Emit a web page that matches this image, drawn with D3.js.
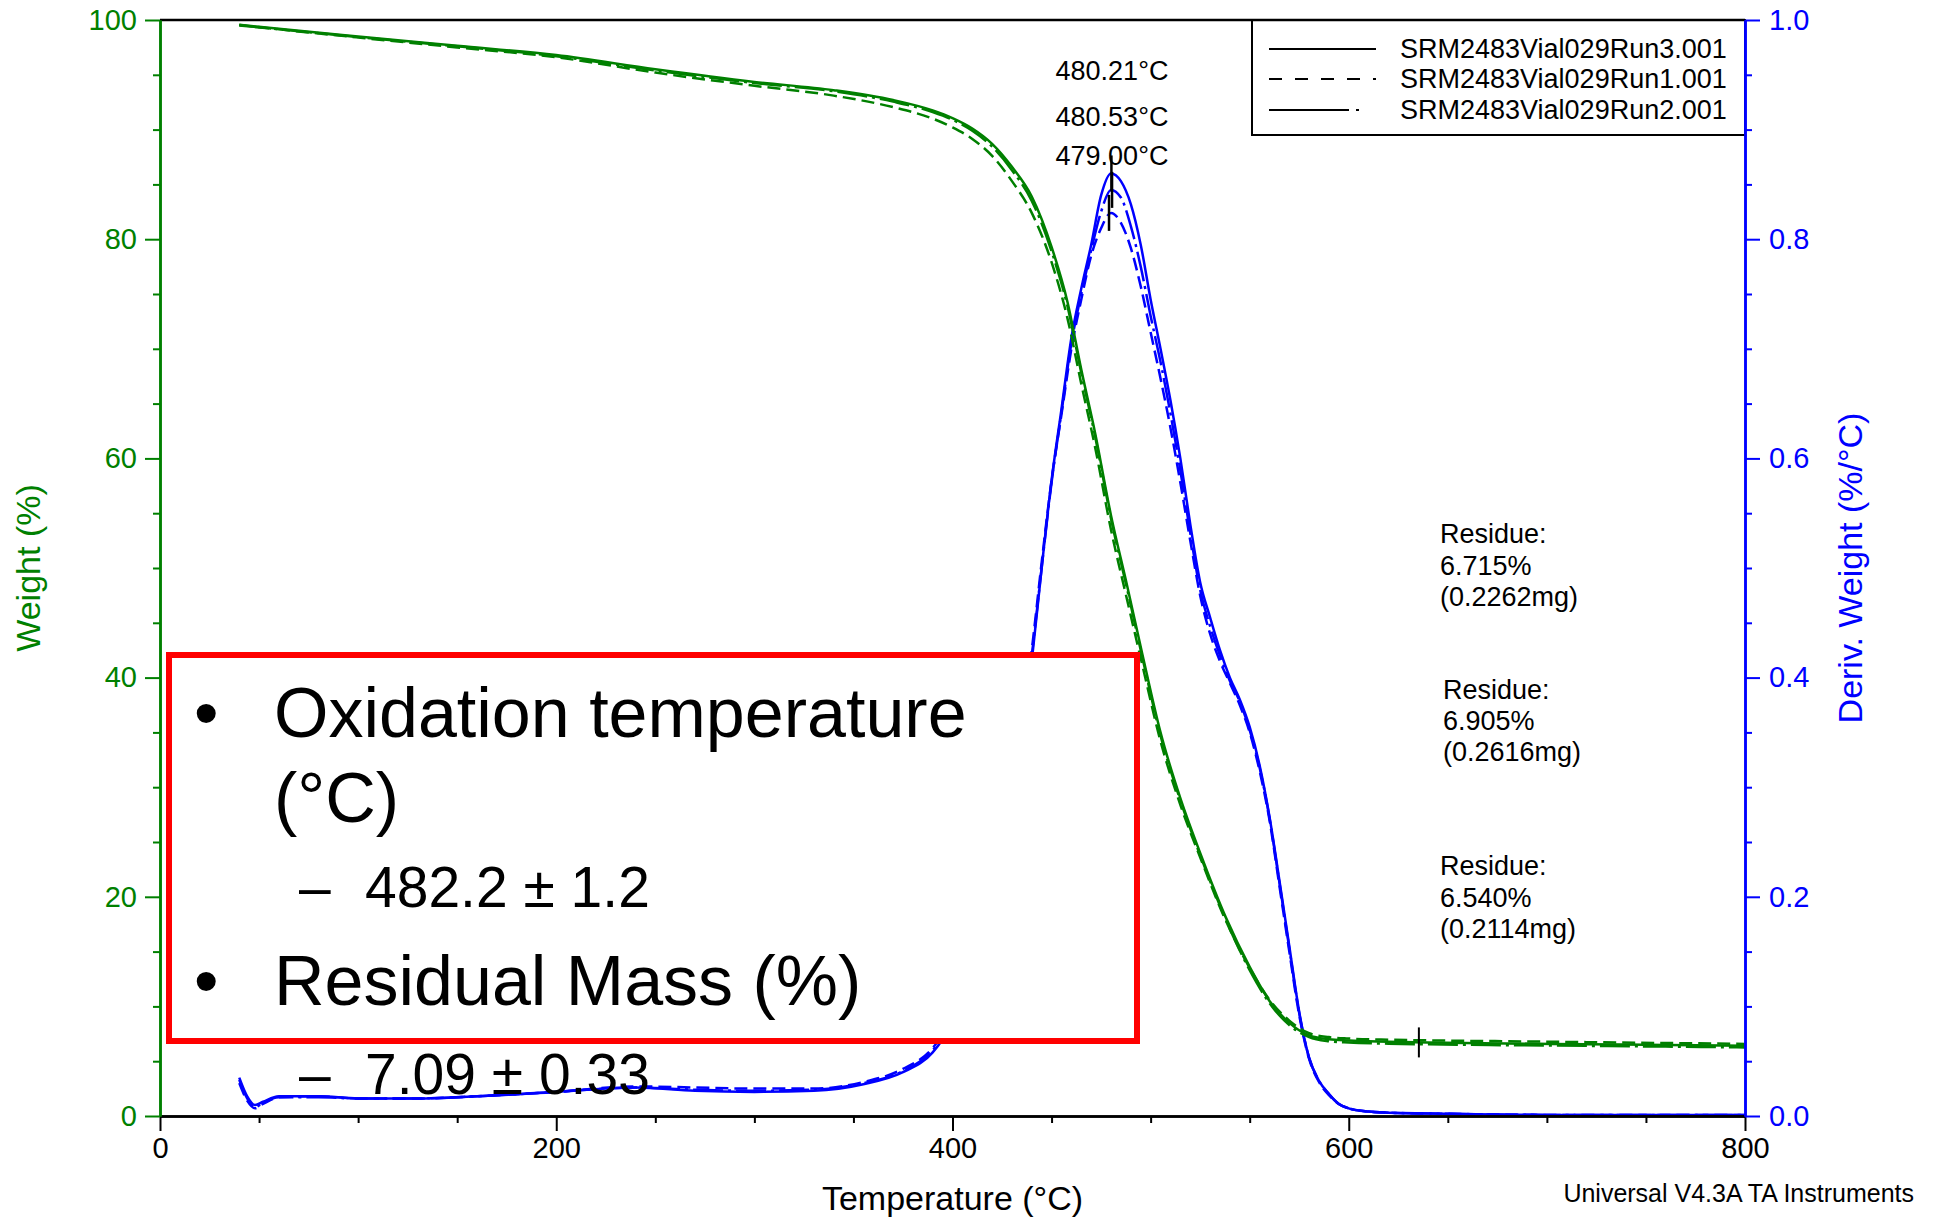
<!DOCTYPE html>
<html><head><meta charset="utf-8">
<script src="https://cdn.jsdelivr.net/npm/d3@7"></script>
<style>
html,body{margin:0;padding:0;background:#fff;}
svg{display:block;font-family:"Liberation Sans",Arial,sans-serif;}
</style></head>
<body>
<svg id="chart" width="1936" height="1218"></svg>
<script>
// ---------------- DATA ----------------
const runNames = ["SRM2483Vial029Run3.001","SRM2483Vial029Run1.001","SRM2483Vial029Run2.001"];
const xTicksMajor = [0,200,400,600,800];
const yWeightTicks = [0,20,40,60,80,100];
const yDerivTicks = [0.0,0.2,0.4,0.6,0.8,1.0];

const weightTemps = [40,60,100,150,200,250,300,340,370,390,400,410,420,430,440,450,458,465,472,480,488,496,505,515,525,538,550,560,570,580,590,600,620,640,680,720,760,800];
const weightRun3 = [99.57,99.2,98.5,97.65,96.8,95.5,94.35,93.6,92.7,91.75,91.05,90.1,88.7,86.6,83.9,79.3,74.3,68.1,62.3,54.8,48.5,42.0,35.0,29.0,24.0,18.1,13.6,10.5,8.5,7.35,7.0,6.88,6.78,6.71,6.62,6.55,6.48,6.40];
const weightRun1 = [99.55,99.15,98.4,97.5,96.6,95.2,94.0,93.1,92.05,91.0,90.2,89.15,87.6,85.3,82.4,77.9,72.8,66.8,61.0,53.5,47.2,41.0,34.2,28.4,23.6,17.8,13.5,10.6,8.7,7.55,7.2,7.07,6.96,6.90,6.82,6.74,6.66,6.58];
const weightRun2 = [99.5,99.15,98.45,97.6,96.7,95.4,94.25,93.5,92.55,91.6,90.9,89.9,88.45,86.3,83.5,78.9,73.9,67.8,62.0,54.5,48.2,41.7,34.7,28.8,23.8,17.9,13.3,10.3,8.3,7.2,6.82,6.70,6.60,6.54,6.46,6.40,6.33,6.26];

const derivTemps = [40,44,48,52,60,80,100,130,160,200,240,270,300,330,355,375,390,400,410,420,430,440,445,450,455,460,465,470,475,480,485,490,495,500,505,510,515,520,525,530,535,540,545,550,555,560,565,570,575,580,585,590,595,600,610,620,650,700,750,800];
const derivRun3 = [0.035,0.018,0.010,0.013,0.018,0.018,0.016,0.016,0.018,0.022,0.026,0.023,0.022,0.023,0.029,0.040,0.058,0.085,0.125,0.19,0.29,0.415,0.50,0.58,0.645,0.71,0.755,0.795,0.84,0.86,0.853,0.832,0.795,0.745,0.70,0.653,0.60,0.54,0.487,0.455,0.425,0.40,0.38,0.355,0.32,0.273,0.215,0.155,0.095,0.053,0.032,0.02,0.011,0.007,0.004,0.003,0.002,0.001,0.001,0.001];
const derivRun1 = [0.030,0.014,0.007,0.011,0.017,0.018,0.016,0.016,0.018,0.022,0.027,0.026,0.025,0.025,0.031,0.043,0.062,0.09,0.13,0.20,0.30,0.425,0.505,0.58,0.64,0.70,0.745,0.785,0.81,0.824,0.815,0.792,0.757,0.715,0.673,0.628,0.578,0.525,0.475,0.44,0.415,0.395,0.375,0.35,0.315,0.27,0.21,0.15,0.092,0.052,0.031,0.019,0.011,0.007,0.004,0.003,0.002,0.001,0.001,0.001];
const derivRun2 = [0.033,0.016,0.008,0.012,0.017,0.017,0.016,0.016,0.018,0.022,0.026,0.024,0.023,0.024,0.030,0.041,0.060,0.087,0.127,0.195,0.295,0.42,0.50,0.578,0.642,0.705,0.75,0.79,0.825,0.845,0.838,0.812,0.775,0.73,0.688,0.641,0.589,0.532,0.48,0.447,0.42,0.397,0.378,0.352,0.318,0.272,0.213,0.153,0.094,0.053,0.032,0.02,0.011,0.007,0.004,0.003,0.002,0.001,0.001,0.001];

const peakTemps = [480.21,480.53,479.00];
const peakVals = [0.860,0.845,0.824];
const peakLabels = ["480.21°C","480.53°C","479.00°C"];

const residueTemp = 635.4;
const residueWeight = 6.715;
const residueLines = [
  ["Residue:","6.715%","(0.2262mg)"],
  ["Residue:","6.905%","(0.2616mg)"],
  ["Residue:","6.540%","(0.2114mg)"]
];

const boxLines = ["Oxidation temperature","(°C)","482.2 ± 1.2","Residual Mass (%)","7.09 ± 0.33"];

// ---------------- LAYOUT ----------------
const svg = d3.select("#chart");
const L=160,R=1745,T=20,B=1116;
const GREEN="#008000", BLUE="#0000ff";
const x = d3.scaleLinear().domain([0,800]).range([L,R]);
const yW = d3.scaleLinear().domain([0,100]).range([B,T]);
const yD = d3.scaleLinear().domain([0,1.0]).range([B,T]);

const dashes = [null,"13,6","30,5,3,5"];

// curves
const wRuns=[weightRun3,weightRun1,weightRun2];
const dRuns=[derivRun3,derivRun1,derivRun2];
const lineW = d3.line().x(d=>x(d[0])).y(d=>yW(d[1])).curve(d3.curveMonotoneX);
const lineD = d3.line().x(d=>x(d[0])).y(d=>yD(d[1])).curve(d3.curveMonotoneX);
const gCurves = svg.append("g");
dRuns.forEach((vals,i)=>{
  gCurves.append("path").attr("d",lineD(derivTemps.map((t,j)=>[t,vals[j]])))
    .attr("fill","none").attr("stroke",BLUE).attr("stroke-width",2.5)
    .attr("stroke-dasharray",dashes[i]);
});
wRuns.forEach((vals,i)=>{
  gCurves.append("path").attr("d",lineW(weightTemps.map((t,j)=>[t,vals[j]])))
    .attr("fill","none").attr("stroke",GREEN).attr("stroke-width",2.5)
    .attr("stroke-dasharray",dashes[i]);
});

// peak markers & labels
peakTemps.forEach((t,i)=>{
  svg.append("line").attr("x1",x(t)).attr("x2",x(t))
    .attr("y1",yD(peakVals[i])-18).attr("y2",yD(peakVals[i])+18)
    .attr("stroke","#000").attr("stroke-width",2.5);
});
const peakBase=[80,126,165];
peakLabels.forEach((s,i)=>{
  svg.append("text").attr("x",x(480)+1).attr("y",peakBase[i]).attr("text-anchor","middle")
    .attr("font-size",27).attr("fill","#000").text(s);
});

// residue marker & text
svg.append("line").attr("x1",x(residueTemp)).attr("x2",x(residueTemp))
  .attr("y1",yW(residueWeight)-15).attr("y2",yW(residueWeight)+15)
  .attr("stroke","#000").attr("stroke-width",2);
const resBase=[[543,575,606],[699,730,761],[875,907,938]];
const resX=[1440,1443,1440];
residueLines.forEach((grp,i)=>{
  grp.forEach((s,j)=>{
    svg.append("text").attr("x",resX[i]).attr("y",resBase[i][j]).attr("font-size",27)
      .attr("fill","#000").text(s);
  });
});

// legend
const lg = svg.append("g");
lg.append("rect").attr("x",1252).attr("y",T).attr("width",R-1252).attr("height",115)
  .attr("fill","#fff").attr("stroke","#000").attr("stroke-width",2);
const legY=[49,79,110];
const legDash=[null,"13,13","80,7,3,40"];
runNames.forEach((n,i)=>{
  lg.append("line").attr("x1",1269).attr("x2",1376).attr("y1",legY[i]).attr("y2",legY[i])
    .attr("stroke","#000").attr("stroke-width",2).attr("stroke-dasharray",legDash[i]);
  lg.append("text").attr("x",1400).attr("y",legY[i]+9).attr("font-size",27).attr("fill","#000").text(n);
});

// top border
svg.append("line").attr("x1",L).attr("x2",R).attr("y1",T).attr("y2",T).attr("stroke","#000").attr("stroke-width",2.5);

// axes
function styleAxis(g,color){
  g.selectAll("path.domain").attr("stroke",color).attr("stroke-width",2.5);
  g.selectAll(".tick line").attr("stroke",color).attr("stroke-width",2);
  g.selectAll(".tick text").attr("fill",color).attr("font-size",29).attr("font-family","Liberation Sans, Arial, sans-serif");
}
const xMinor = d3.range(0,801,50).filter(v=>v%200!==0);
styleAxis(svg.append("g").attr("transform",`translate(0,${B})`)
  .call(d3.axisBottom(x).tickValues(xMinor).tickSize(7).tickFormat("").tickSizeOuter(0)),"#000");
styleAxis(svg.append("g").attr("transform",`translate(0,${B})`)
  .call(d3.axisBottom(x).tickValues(xTicksMajor).tickSize(15).tickPadding(6).tickSizeOuter(0)),"#000");

const wMinor = d3.range(0,101,5).filter(v=>v%20!==0);
styleAxis(svg.append("g").attr("transform",`translate(${L},0)`)
  .call(d3.axisLeft(yW).tickValues(wMinor).tickSize(7).tickFormat("").tickSizeOuter(0)),GREEN);
styleAxis(svg.append("g").attr("transform",`translate(${L},0)`)
  .call(d3.axisLeft(yW).tickValues(yWeightTicks).tickSize(15).tickPadding(8).tickSizeOuter(0)),GREEN);

const dMinor = d3.range(0,21,1).filter(v=>v%4!==0).map(v=>v*0.05);
styleAxis(svg.append("g").attr("transform",`translate(${R},0)`)
  .call(d3.axisRight(yD).tickValues(dMinor).tickSize(7).tickFormat("").tickSizeOuter(0)),BLUE);
styleAxis(svg.append("g").attr("transform",`translate(${R},0)`)
  .call(d3.axisRight(yD).tickValues(yDerivTicks).tickSize(15).tickPadding(9).tickFormat(d3.format(".1f")).tickSizeOuter(0)),BLUE);

// axis titles
svg.append("text").attr("x",(L+R)/2).attr("y",1210).attr("text-anchor","middle")
  .attr("font-size",34).attr("fill","#000").text("Temperature (°C)");
svg.append("text").attr("transform",`translate(40,${(T+B)/2}) rotate(-90)`).attr("text-anchor","middle")
  .attr("font-size",34).attr("fill",GREEN).text("Weight (%)");
svg.append("text").attr("transform",`translate(1862,${(T+B)/2}) rotate(-90)`).attr("text-anchor","middle")
  .attr("font-size",34).attr("fill",BLUE).text("Deriv. Weight (%/°C)");
svg.append("text").attr("x",1914).attr("y",1202).attr("text-anchor","end")
  .attr("font-size",25).attr("fill","#000").text("Universal V4.3A TA Instruments");

// red summary box
svg.append("rect").attr("x",169).attr("y",655).attr("width",968).attr("height",386)
  .attr("fill","#fff").attr("stroke","#ff0000").attr("stroke-width",6);
function bullet(y,s){
  svg.append("text").attr("x",194).attr("y",y).attr("font-size",70).attr("fill","#000").text("•");
  svg.append("text").attr("x",274).attr("y",y).attr("font-size",70).attr("fill","#000").text(s);
}
function sub(y,s){
  const t=svg.append("text").attr("y",y).attr("font-size",57).attr("fill","#000");
  t.append("tspan").attr("x",299).text("–");
  t.append("tspan").attr("x",365).text(s);
}
bullet(737,boxLines[0]);
svg.append("text").attr("x",274).attr("y",822).attr("font-size",70).attr("fill","#000").text(boxLines[1]);
sub(907,boxLines[2]);
bullet(1005,boxLines[3]);
sub(1094,boxLines[4]);
</script>
</body></html>
